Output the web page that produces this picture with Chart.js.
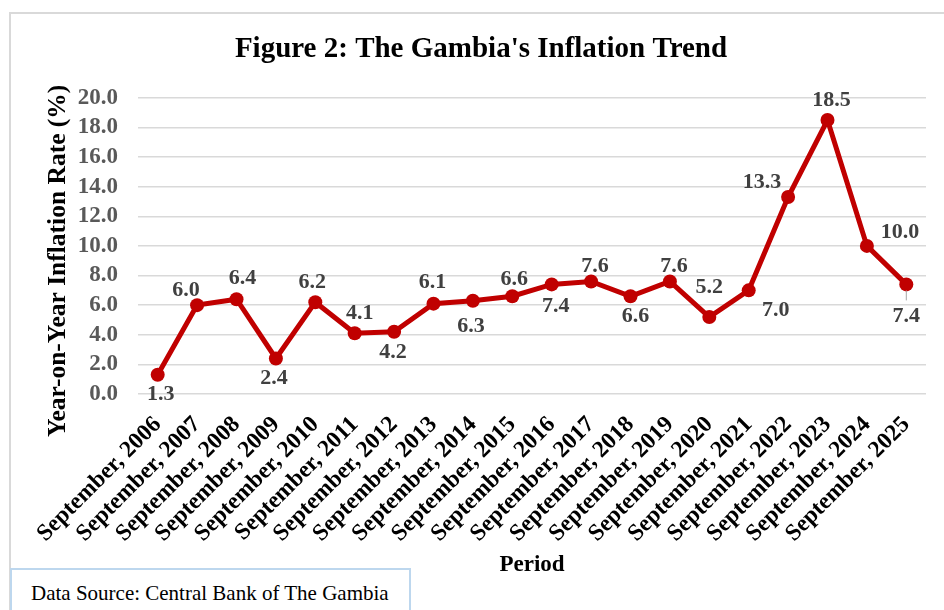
<!DOCTYPE html>
<html>
<head>
<meta charset="utf-8">
<script src="https://cdn.jsdelivr.net/npm/chart.js@4.4.1/dist/chart.umd.min.js"></script>
<style>
  html, body { margin: 0; padding: 0; background: #fff; }
  body { width: 944px; height: 610px; position: relative; overflow: hidden; }
  #frame {
    position: absolute; left: 9px; top: 12px; width: 1000px; height: 700px;
    border-left: 2px solid #d9d9d9; border-top: 2px solid #d9d9d9;
  }
  #wrap { position: absolute; left: 0; top: 0; width: 944px; height: 610px; }
  #source {
    position: absolute; left: 10px; top: 568px; width: 401px; height: 60px;
    border: 2px solid #bdd7ee; background: #fff;
    font-family: "Liberation Serif", "Times New Roman", serif; font-size: 21px;
    color: #000; padding-left: 19px; box-sizing: border-box; line-height: 46px;
  }
</style>
</head>
<body>
<div id="frame"></div>
<div id="wrap"><canvas id="myChart" width="944" height="610"></canvas></div>
<div id="source">Data Source: Central Bank of The Gambia</div>
<script>
  var periods = [
    "September, 2006", "September, 2007", "September, 2008", "September, 2009",
    "September, 2010", "September, 2011", "September, 2012", "September, 2013",
    "September, 2014", "September, 2015", "September, 2016", "September, 2017",
    "September, 2018", "September, 2019", "September, 2020", "September, 2021",
    "September, 2022", "September, 2023", "September, 2024", "September, 2025"
  ];
  var inflation = [
    1.3, 6.0, 6.4, 2.4, 6.2, 4.1, 4.2, 6.1, 6.3, 6.6,
    7.4, 7.6, 6.6, 7.6, 5.2, 7.0, 13.3, 18.5, 10.0, 7.4
  ];
  var yTicks = [0, 2, 4, 6, 8, 10, 12, 14, 16, 18, 20];
  var yTitle = "Year-on-Year Inflation Rate (%)";

  // label placement (offset from the point, px)
  var labelDx = [3, -11, 6, -2, -3, 5, -1, -1, -2, 2, 4, 4, 5, 4, 0, 27, -26, 4, 33, 0];
  var labelDy = [20, -15, -21, 20, -20, -20, 21, -21, 26, -17, 22, -15, 20, -15, -30, 20, -15, -20, -14, 32];
  var leaderLines = [19];

  var serif = "'Liberation Serif', 'Times New Roman', serif";

  var pointLabels = {
    id: "pointLabels",
    afterDraw: function (chart) {
      var ctx = chart.ctx;
      ctx.save();
      ctx.translate(58, (chart.chartArea.top + chart.chartArea.bottom) / 2 + 15);
      ctx.rotate(-Math.PI / 2);
      ctx.font = "bold 25.5px " + serif;
      ctx.fillStyle = "#000";
      ctx.textAlign = "center";
      ctx.textBaseline = "middle";
      ctx.fillText(yTitle, 0, 0);
      ctx.restore();
    },
    afterDatasetsDraw: function (chart) {
      var ctx = chart.ctx;
      var meta = chart.getDatasetMeta(0);
      ctx.save();
      leaderLines.forEach(function (i) {
        var p = meta.data[i];
        ctx.strokeStyle = "#a6a6a6";
        ctx.lineWidth = 1;
        ctx.beginPath();
        ctx.moveTo(p.x, p.y + 6);
        ctx.lineTo(p.x, p.y + 16);
        ctx.stroke();
      });
      ctx.font = "bold 22px " + serif;
      ctx.fillStyle = "#404040";
      ctx.textAlign = "center";
      ctx.textBaseline = "middle";
      meta.data.forEach(function (p, i) {
        ctx.fillText(inflation[i].toFixed(1), p.x + labelDx[i], p.y + labelDy[i]);
      });
      ctx.restore();
    }
  };

  var ctx = document.getElementById("myChart").getContext("2d");
  var myChart = new Chart(ctx, {
    type: "line",
    data: {
      labels: periods,
      datasets: [
        {
          data: inflation,
          borderColor: "#c00000",
          backgroundColor: "#c00000",
          borderWidth: 5,
          pointRadius: 7,
          pointHoverRadius: 7,
          pointBorderWidth: 0,
          tension: 0,
        },
      ],
    },
    options: {
      responsive: false,
      animation: false,
      layout: { padding: { left: 36, right: 18, top: 0, bottom: 0 } },
      scales: {
        x: {
          offset: true,
          grid: { display: false, drawTicks: false },
          border: { display: false },
          ticks: {
            autoSkip: false,
            maxRotation: 45,
            minRotation: 45,
            padding: 17,
            color: "#000",
            font: { family: serif, size: 23.5, weight: "bold" },
          },
          title: {
            display: true,
            text: "Period",
            color: "#000",
            font: { family: serif, size: 23, weight: "bold" },
            padding: { top: 0, bottom: 31 },
          },
          afterFit: function (scale) { scale.height = 216; },
        },
        y: {
          min: 0,
          max: 20,
          afterBuildTicks: function (scale) {
            scale.ticks = yTicks.map(function (v) { return { value: v }; });
          },
          grid: { color: "#d9d9d9", lineWidth: 1.5, drawTicks: false },
          border: { display: false },
          ticks: {
            autoSkip: false,
            padding: 20,
            color: "#595959",
            font: { family: serif, size: 23, weight: "bold" },
            callback: function (v) { return Number(v).toFixed(1); },
          },
          title: { display: false },
          afterFit: function (scale) { scale.width = 102; },
        },
      },
      plugins: {
        legend: { display: false },
        tooltip: { enabled: false },
        title: {
          display: true,
          text: "Figure 2: The Gambia's Inflation Trend",
          color: "#000",
          font: { family: serif, size: 29, weight: "bold" },
          padding: { top: 32, bottom: 31 },
        },
      },
    },
    plugins: [pointLabels],
  });
</script>
</body>
</html>
